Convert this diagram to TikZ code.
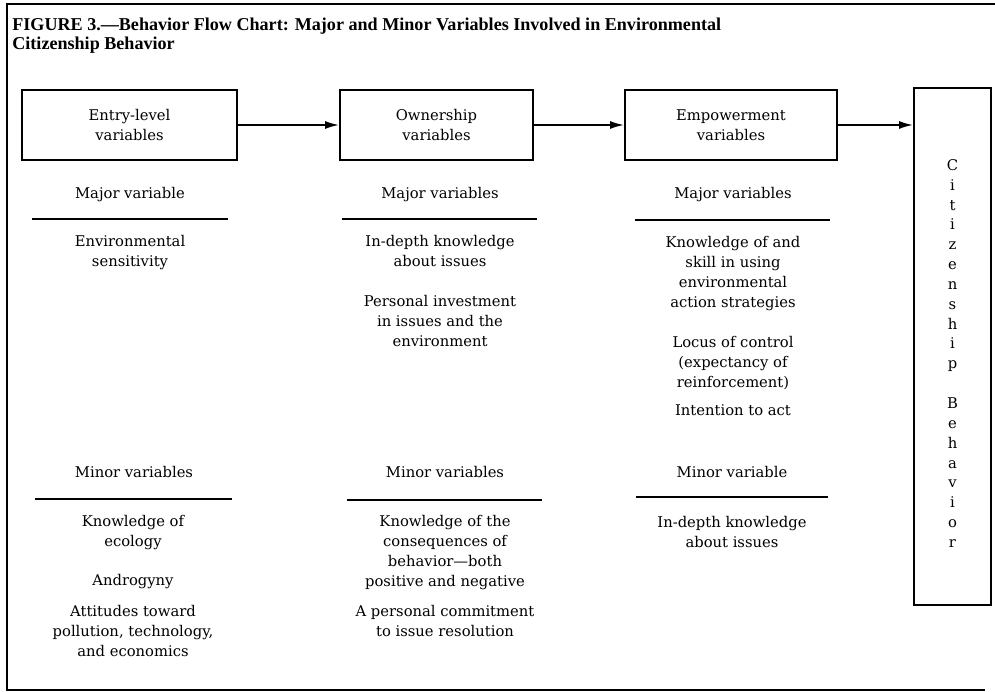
\documentclass[tikz,border=0pt]{standalone}
\usepackage{fontspec}
\setmainfont{DejaVu Serif}
\newfontfamily\titlefont{Liberation Serif}
\usetikzlibrary{arrows.meta,positioning}

\begin{document}
\begin{tikzpicture}[x=0.02cm,y=-0.02cm,
  font=\fontsize{8.4}{11.3}\selectfont,
  stage/.style={draw,line width=1.1pt,minimum height=1.4cm,align=center,inner sep=0pt},
  flow/.style={-{Latex[length=2.8mm,width=1.6mm]},line width=1pt},
  rule/.style={line width=0.8pt},
  txt/.style={align=center,inner sep=0pt,anchor=north}]
\useasboundingbox (0,0) rectangle (995,692);

% Frame
\draw[line width=1pt] (995,4) -- (7,4) -- (7,690) -- (985,690);

% Title
\node[anchor=north west,align=left,inner sep=0pt,
  font=\titlefont\bfseries\fontsize{10.3}{10.6}\selectfont] (title) at (12,18)
  {FIGURE 3.—Behavior Flow Chart: Major and Minor Variables Involved in Environmental\\
   Citizenship Behavior};

% Stage boxes
\node[stage,minimum width=4.3cm] (entry) at (129.5,125) {Entry-level\\variables};
\node[stage,minimum width=3.86cm] (own) at (436.5,125) {Ownership\\variables};
\node[stage,minimum width=4.24cm] (emp) at (731,125) {Empowerment\\variables};
\node[stage,minimum width=1.54cm,minimum height=10.34cm] (cit) at (952.5,346.5) {};
\node[txt] (citlbl) at (952.5,159)
  {C\\i\\t\\i\\z\\e\\n\\s\\h\\i\\p\\[11.3pt]B\\e\\h\\a\\v\\i\\o\\r};

% Arrows
\draw[flow] (entry) -- (own);
\draw[flow] (own) -- (emp);
\draw[flow] (emp.east) -- (emp.east -| cit.west);

% Major variables
\node[txt] (majA) at (130,187) {Major variable};
\node[txt] (majB) at (440,187) {Major variables};
\node[txt] (majC) at (733,187) {Major variables};
\draw[rule] (32,219) -- (228,219);
\draw[rule] (342,219) -- (537,219);
\draw[rule] (635,220) -- (830,220);

\node[txt] (sens) at (130,235) {Environmental\\sensitivity};
\node[txt] (know) at (440,235) {In-depth knowledge\\about issues};
\node[txt] (invest) at (440,295) {Personal investment\\in issues and the\\environment};
\node[txt] (skill) at (733,236) {Knowledge of and\\skill in using\\environmental\\action strategies};
\node[txt] (locus) at (733,336) {Locus of control\\(expectancy of\\reinforcement)};
\node[txt] (intent) at (733,404) {Intention to act};

% Minor variables
\node[txt] (minA) at (134,466) {Minor variables};
\node[txt] (minB) at (445,466) {Minor variables};
\node[txt] (minC) at (732,466) {Minor variable};
\draw[rule] (35,499) -- (232,499);
\draw[rule] (347,500) -- (542,500);
\draw[rule] (636,497) -- (828,497);

\node[txt] (ecol) at (133,515) {Knowledge of\\ecology};
\node[txt] (andro) at (133,574) {Androgyny};
\node[txt] (attit) at (133,605) {Attitudes toward\\pollution, technology,\\and economics};
\node[txt] (conseq) at (445,515) {Knowledge of the\\consequences of\\behavior—both\\positive and negative};
\node[txt] (commit) at (445,605) {A personal commitment\\to issue resolution};
\node[txt] (issues) at (732,516) {In-depth knowledge\\about issues};
\end{tikzpicture}
\end{document}
